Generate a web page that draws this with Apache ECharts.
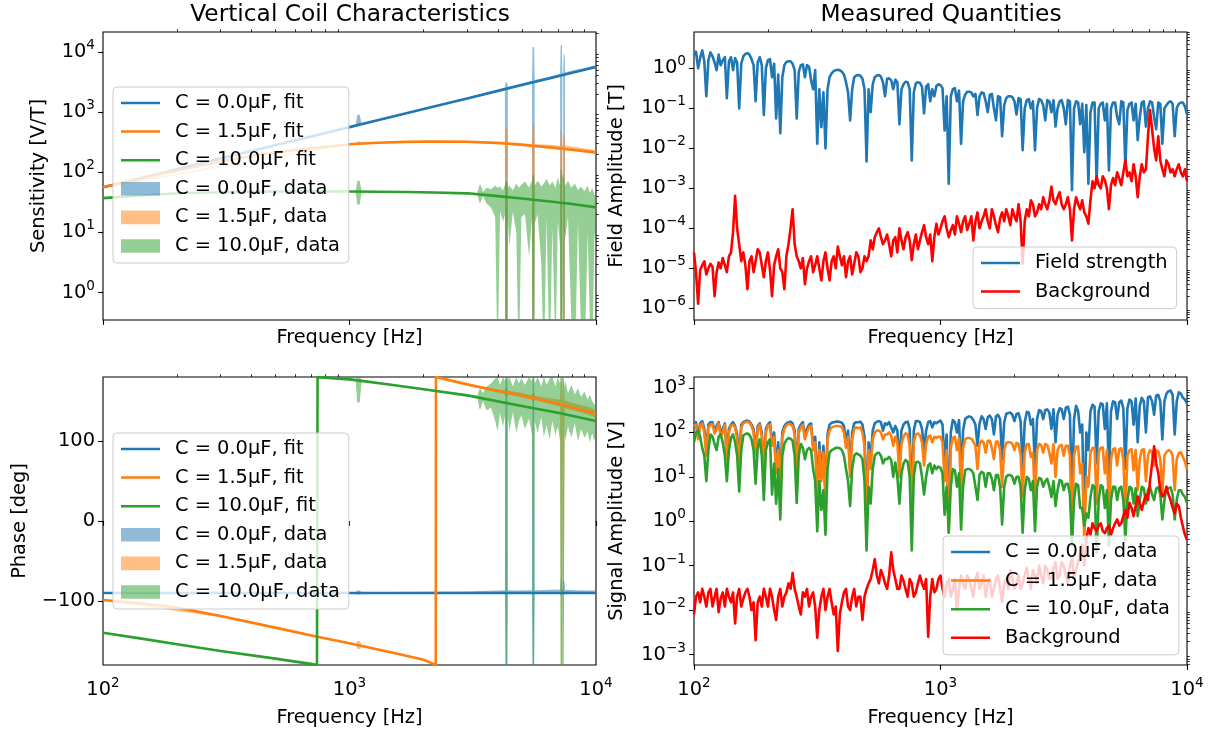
<!DOCTYPE html>
<html><head><meta charset="utf-8">
<script src="https://cdn.jsdelivr.net/npm/echarts@6.0.0/dist/echarts.min.js"></script>
<style>html,body{margin:0;padding:0;background:#fff}#c{width:1213px;height:734px}</style>
</head><body><div id="c"></div><script>
// ---------------- data ----------------
const FREQ = [100,103.9,108,112.2,116.6,121.2,125.9,130.8,135.9,141.3,146.8,152.5,158.5,164.7,171.1,177.8,184.8,192,199.5,207.3,
215.4,223.9,232.6,241.7,251.2,261,271.2,281.8,292.9,304.3,316.2,328.6,341.5,354.8,368.7,383.1,398.1,413.7,429.9,446.7,
464.2,482.3,501.2,520.8,541.2,562.3,584.3,607.2,631,655.6,681.3,707.9,735.6,764.5,794.3,825.4,857.7,891.3,926.1,962.4,
1000,1039,1080,1122,1166,1212,1259,1308,1359,1413,1468,1525,1585,1647,1711,1778,1848,1920,1995,2073,
2154,2239,2326,2417,2512,2610,2712,2818,2929,3043,3162,3286,3415,3548,3687,3831,3981,4137,4299,4467,
4642,4823,5012,5208,5412,5623,5843,6072,6310,6556,6813,7079,7356,7645,7943,8254,8577,8913,9261,9624,10000];
const FREQ_MID = [101.9,105.9,110.1,114.4,118.9,123.5,128.3,133.4,138.6,144,149.6,155.5,161.6,167.9,174.5,181.3,188.4,195.7,203.4,211.4,
219.6,228.2,237.1,246.4,256.1,266.1,276.5,287.3,298.5,310.2,322.4,335,348.1,361.7,375.8,390.5,405.8,421.7,438.2,455.3,
473.2,491.7,510.9,530.9,551.7,573.2,595.7,619,643.2,668.3,694.5,721.7,749.9,779.2,809.7,841.4,874.3,908.5,944.1,981,
1019,1059,1101,1144,1189,1235,1283,1334,1386,1440,1496,1555,1616,1679,1745,1813,1884,1957,2034,2114,
2196,2282,2371,2464,2561,2661,2765,2873,2985,3102,3224,3350,3481,3617,3758,3905,4058,4217,4382,4553,
4732,4917,5109,5309,5517,5732,5957,6190,6432,6683,6945,7217,7499,7792,8097,8414,8743,9085,9441,9810];

const FIELD = [2.2,1.0,2.8,0.2,2.5,1.4,2.2,1.6,0.18,1.9,
1.8,0.1,2.0,2.4,1.7,0.15,1.9,0.068,1.6,0.6,
0.056,0.024,1.2,1.5,1.3,0.056,1.2,0.6,1.1,0.3,
0.013,0.034,0.01,0.6,0.85,0.92,0.82,0.45,0.05,0.6,
0.68,0.55,0.0047,0.08,0.6,0.68,0.45,0.55,0.5,0.52,
0.04,0.4,0.45,0.005,0.42,0.43,0.075,0.4,0.3,0.36,
0.38,0.028,0.0013,0.3,0.15,0.013,0.22,0.26,0.2,0.068,
0.25,0.15,0.22,0.1,0.2,0.02,0.18,0.2,0.15,0.18,
0.009,0.16,0.1,0.009,0.17,0.12,0.16,0.08,0.035,0.15,
0.1,0.16,0.0009,0.15,0.04,0.008,0.0013,0.14,0.0013,0.13,
0.05,0.0028,0.14,0.06,0.15,0.0035,0.13,0.05,0.016,0.14,
0.035,0.15,0.06,0.14,0.013,0.12,0.15,0.02,0.13,0.14,0.07];
const FIELD_MID = [2.6,1.8,1.5,1.6,2.0,0.9,1.2,1.9,1.5,0.9,
1.4,1.3,2.3,2.2,1.2,1.4,1.2,1.0,1.7,1.3,
0.7,0.6,1.45,1.5,0.9,0.8,1.25,1.2,0.5,0.9,
0.3,0.25,0.3,0.75,0.9,0.9,0.7,0.25,0.3,0.66,
0.65,0.3,0.3,0.4,0.66,0.62,0.2,0.56,0.3,0.45,
0.3,0.46,0.3,0.25,0.45,0.35,0.35,0.15,0.2,0.4,
0.32,0.2,0.2,0.32,0.28,0.15,0.26,0.25,0.23,0.2,
0.24,0.08,0.23,0.05,0.19,0.12,0.2,0.19,0.07,0.17,
0.1,0.17,0.15,0.1,0.16,0.05,0.15,0.16,0.1,0.16,
0.04,0.15,0.1,0.14,0.13,0.12,0.08,0.14,0.1,0.14,
0.13,0.1,0.14,0.04,0.14,0.09,0.14,0.13,0.06,0.15,
0.1,0.14,0.03,0.13,0.1,0.14,0.13,0.1,0.14,0.11];

const BG_FIELD = [2.5e-5,1.3e-6,1.2e-5,7e-6,1.3e-5,2e-6,1.4e-5,1.8e-5,8e-6,2.5e-5,
6.5e-4,4e-5,2.5e-5,3e-6,2e-5,1.5e-5,2.5e-5,6e-6,2.5e-5,2e-6,
2e-5,1e-5,3e-6,4e-5,3e-4,2e-5,1e-5,4e-6,1.5e-5,8e-6,
2e-5,5e-6,2.5e-5,5e-6,2e-5,3.5e-5,1.2e-5,6e-6,2e-5,1.3e-5,
2e-5,1e-5,1.5e-5,5e-5,6e-5,1e-4,4e-5,7e-5,2e-5,6e-5,
1e-4,3e-5,8e-5,1.6e-5,7e-5,5e-5,1.2e-4,4e-5,1.5e-5,1.3e-4,
1e-4,2e-4,6e-5,1.2e-4,2e-4,8e-5,2e-4,1.3e-4,5e-5,2.5e-4,
1.5e-4,3e-4,1e-4,2e-4,8e-5,2.5e-4,3e-4,1.2e-4,2e-4,4e-4,
1.3e-5,3e-4,5e-4,2e-4,4e-4,6e-4,3e-4,1.1e-3,4e-4,8e-4,
3e-4,6e-4,5e-5,6e-4,3e-4,2.5e-4,1.3e-4,1.5e-3,2e-3,1e-3,
1.6e-3,3e-4,1.8e-3,2.5e-3,1.2e-3,5e-3,2.5e-3,4e-3,6e-4,4e-3,
3e-3,0.09,0.01,0.02,3e-3,5e-3,2.5e-3,2e-3,4e-3,2e-3,1.5e-3];
const BG_FIELD_MID = [8e-6,9e-6,1.5e-5,1e-5,1.1e-5,8e-6,1e-5,1.2e-5,2e-5,8e-5,
1e-4,1.5e-5,1.2e-5,1.5e-5,8e-6,3e-5,1.2e-5,1.5e-5,9e-6,1.2e-5,
3e-5,8e-6,2e-5,1e-4,4e-5,1.5e-5,1.8e-5,1e-5,2e-5,1.2e-5,
1e-5,1.5e-5,1e-5,1.5e-5,1e-5,2e-5,2e-5,1.5e-5,7e-6,2.5e-5,
8e-6,2e-5,2e-5,3e-5,8e-5,6e-5,5e-5,4e-5,5e-5,2.5e-5,
5e-5,6e-5,5e-5,4e-5,3e-5,8e-5,6e-5,7e-5,6e-5,7e-5,
1.5e-4,1e-4,9e-5,7e-5,1.3e-4,1.5e-4,9e-5,2e-4,1.5e-4,1e-4,
2e-4,1.5e-4,3e-4,1.2e-4,1.8e-4,1.5e-4,2e-4,3e-4,1.5e-4,1.5e-4,
1.5e-4,2e-4,4e-4,2.5e-4,3e-4,4e-4,5e-4,5e-4,6e-4,4e-4,
4e-4,3e-4,3e-4,4e-4,5e-4,2e-4,5e-4,1e-3,1.2e-3,2e-3,
1e-3,1.2e-3,1.2e-3,1.8e-3,2.5e-3,2e-3,1.5e-3,2e-3,2e-3,2.5e-3,
0.02,0.03,5e-3,5e-3,2e-3,4e-3,3e-3,3e-3,2.5e-3,3e-3];

const SIG0 = [150,80,180,40,170,110,170,120,30,150,
140,25,170,185,150,35,160,15,150,60,
15,8,140,170,160,15,150,80,150,50,
5,10,4,150,170,175,165,60,15,160,
170,150,2,25,160,180,110,150,130,140,
20,150,175,2.5,180,170,40,170,130,160,
185,20,1.5,190,100,10,200,230,190,50,
230,120,240,90,250,25,260,280,180,270,
15,290,150,15,320,200,330,120,60,350,
200,380,3,400,100,0.64,40,420,20,450,
120,10,500,200,520,15,550,150,60,600,
100,650,250,700,70,750,880,90,800,600,450];
const SIG0_MID = [170,160,120,150,170,140,100,160,120,170,
90,150,180,175,120,140,100,120,170,100,
60,100,160,175,110,120,170,120,160,80,
60,50,90,165,175,172,140,110,100,170,
175,80,60,110,175,170,160,170,100,110,
110,170,120,110,180,120,110,180,170,175,
150,90,100,170,190,110,220,220,150,160,
200,220,200,230,200,170,275,250,260,180,
170,280,200,200,300,320,280,330,250,330,
360,250,200,300,150,100,300,380,300,430,
450,300,480,480,350,350,500,580,400,500,
620,500,680,500,500,850,700,500,750,550];

const SIG1 = [140,70,160,30,150,95,160,100,25,140,
130,20,160,175,140,30,150,12,140,50,
12,6,120,155,140,12,130,70,130,40,
2.5,8,3,110,135,140,130,45,10,120,
125,100,1.5,15,100,110,70,90,85,80,
10,80,90,1.2,90,85,18,80,60,75,
80,8,0.6,75,40,4,70,75,62,15,
65,35,65,25,62,6,58,60,40,55,
3.5,55,28,3,55,35,52,20,10,50,
30,50,0.5,48,12,0.4,6,45,2.5,45,
12,1.2,42,18,44,1.5,40,14,5,40,
8,40,18,38,4,36,38,5,34,28,15];
const SIG1_MID = [150,140,100,130,155,120,80,150,100,150,
70,130,170,165,100,120,80,100,150,80,
40,80,145,155,90,100,150,100,140,60,
40,35,70,130,140,138,100,80,70,130,
130,50,40,70,110,100,90,100,50,60,
55,95,50,60,95,60,55,85,80,80,
60,40,45,80,75,45,75,72,50,55,
60,65,45,62,40,40,60,55,58,30,
35,55,35,40,52,55,35,55,40,52,
50,30,30,48,20,10,35,44,35,46,
40,25,44,42,25,30,42,40,25,42,
30,35,40,25,30,40,30,25,36,22];

const SIG2 = [60,110,45,8,90,55,80,60,8,75,
60,4.7,85,95,70,7,70,3,60,4,
2.5,1.1,55,75,65,2.6,55,25,45,15,
0.6,1.8,0.5,35,42,45,40,15,2.2,30,
32,25,0.22,2.5,30,35,20,25,24,21,
2.5,20,22,0.22,21,20,4,18,12,15,
16,1.4,0.55,15,6,0.65,14,15,12,3,
13,6,12,5,11,0.85,10,11,7,10,
0.55,10,5,0.6,9.5,6,9,3.5,2.2,8.5,
5,7,0.28,7,2,0.8,1.2,6.5,0.19,6.5,
2,0.28,6,3,6,0.38,6,2.5,1.3,6,
2.5,6,3,5.8,1.1,5.5,5.8,1.1,5,4,2.6];
const SIG2_MID = [100,80,30,40,80,40,90,30,40,90,
30,40,92,88,40,45,30,40,70,20,
15,30,68,72,30,30,45,40,40,8,
8,5,15,40,45,44,30,8,15,34,
30,8,6,15,34,30,25,28,10,10,
12,24,10,10,22,10,10,20,18,17,
12,6,6,14,12,6,15,14,6,11,
12,12,9,11,6,6,11,10,10,6,
5,9,8,6,9,8,6,8,5,8,
7,4,3,6.5,2,1.5,3.5,6,3,6,
5,3,6,5.5,3,3,5.5,5.5,3,5.5,
5,4,5.5,4,3,5.5,4,3,5,3.5];

const BG_SIG = [0.008,0.025,0.03,0.012,0.03,0.02,0.009,0.025,0.03,0.015,
0.005,0.03,0.018,0.03,0.01,0.0021,0.02,0.03,0.012,0.02,
0.006,0.03,0.02,0.04,0.068,0.02,0.008,0.02,0.012,0.025,
0.0024,0.02,0.01,0.03,0.008,0.0012,0.015,0.03,0.01,0.03,
0.02,0.006,0.03,0.05,0.14,0.04,0.06,0.03,0.2,0.05,
0.03,0.045,0.02,0.04,0.025,0.06,0.03,0.0025,0.05,0.03,
0.06,0.02,0.05,0.03,0.01,0.06,0.03,0.05,0.02,0.07,
0.04,0.02,0.05,0.03,0.06,0.015,0.05,0.08,0.03,0.06,
0.04,0.09,0.03,0.06,0.1,0.04,0.08,0.05,0.12,0.06,
0.1,0.04,0.15,0.08,0.2,0.1,0.7,0.9,0.6,0.9,
0.54,0.8,0.7,1.1,0.9,1.8,2.6,1.3,3.6,1.8,
4,8,49,12,3.6,6,3,1.5,2.2,0.76,0.38];
const BG_SIG_MID = [0.02,0.015,0.02,0.025,0.012,0.03,0.018,0.012,0.02,0.025,
0.02,0.012,0.025,0.02,0.015,0.015,0.012,0.02,0.03,0.01,
0.02,0.012,0.025,0.03,0.03,0.012,0.025,0.03,0.02,0.012,
0.01,0.03,0.02,0.015,0.012,0.008,0.025,0.012,0.02,0.012,
0.02,0.02,0.04,0.08,0.06,0.08,0.04,0.06,0.08,0.03,
0.06,0.03,0.05,0.02,0.04,0.04,0.05,0.02,0.025,0.05,
0.03,0.04,0.02,0.05,0.03,0.04,0.06,0.03,0.05,0.03,
0.06,0.04,0.02,0.05,0.03,0.04,0.03,0.05,0.04,0.03,
0.06,0.05,0.08,0.04,0.06,0.1,0.05,0.09,0.05,0.12,
0.06,0.1,0.05,0.12,0.3,0.4,0.5,0.7,0.8,0.6,
0.7,0.5,0.9,0.8,1.3,1.2,2,2.2,2.5,2.8,
3,20,20,5,4,4,2,2.5,1.2,0.5];

// sensitivity fits
const FIT_F = [100,130,170,220,300,400,500,650,800,1000,1300,1700,2200,3000,4000,5000,6500,8000,10000];
const FIT0 = [56,73,95,123,168,224,280,364,448,560,728,952,1232,1680,2240,2800,3640,4480,5600];
const FIT1 = [56,72,92,115,150,185,212,243,265,290,308,318,324,320,305,285,258,236,213];
const FIT2 = [37,40,43,45,46.5,47.3,47.7,48,48,47.7,47.3,46.7,46,44.5,40,36.5,32.5,29.5,26];

// sensitivity data bands
const BAND_F01 = [100,1000,1060,1075,1100,1120,2000,3000,3400,4000,4270,4295,4365,4390,4800,5500,5530,5610,5640,6500,
7150,7190,7270,7300,7360,7390,7460,7490,8500,9500,10000];
const SENS0_LO = [54,545,580,590,600,610,1090,1640,1850,2180,2330,0.01,0.01,2390,2600,2980,0.01,0.01,3040,3500,
3860,0.01,0.01,3980,3990,0.01,0.01,4080,4600,5100,5400];
const SENS0_HI = [58,575,610,900,900,640,1150,1740,1990,2350,2550,3100,3100,2600,2850,3300,12000,12000,3400,3900,
4300,13000,13000,4450,4480,9000,9000,4550,5100,5700,6000];
const SENS1_LO = [54,285,289,280,280,291,316,305,300,290,286,0.01,0.01,284,275,263,0.01,0.01,261,245,
236,0.01,0.01,233,232,0.01,0.01,231,218,205,200];
const SENS1_HI = [58,301,305,325,325,307,334,332,330,322,319,560,560,317,308,293,650,650,291,285,
276,520,520,285,282,420,420,276,258,240,228];
const BAND_F2 = [100,200,400,700,1000,1060,1075,1100,1120,1500,2000,2500,3000,3300,3370,3400,3480,3600,3750,3900,
3987,4080,4200,4270,4295,4365,4390,4450,4600,4750,4863,4980,5150,5350,5500,5530,5610,5640,5800,6000,
6145,6300,6486,6650,6847,7000,7150,7190,7270,7300,7360,7390,7460,7500,7700,7950,8200,8450,8700,8975,
9250,9450,9644,9850,10000];
const SENS2_LO = [36,43.5,46.3,47,46.7,46.6,29,29,46.6,46,45.3,44.5,43.5,42.5,31,31,40,30,26,18,
0.05,22,15,20,0.01,0.01,16,6,22,10,0.05,18,20,4,17,0.01,0.01,14,20,3,
0.05,18,0.05,12,0.1,15,6,0.01,0.01,1,0.01,0.01,12,8,18,0.3,0.05,15,0.2,0.05,
10,0.3,0.05,8,14];
const SENS2_HI = [38,45.5,48.3,49,48.7,48.6,72,72,48.6,48,47.3,46.5,45.5,45,62,62,47,55,52,60,
55,58,50,62,70,70,55,60,50,65,55,62,70,55,72,90,90,60,72,58,
65,78,60,70,55,82,60,110,110,80,95,95,62,60,72,55,65,50,58,48,
60,45,55,42,40];

// phase fits
const PH0_F = [100,10000];
const PH0 = [-90,-90];
const PH1_F = [100,150,200,300,500,740,1000,1500,2000,2238,2242,3000,4000,5000,7000,10000];
const PH1 = [-98.8,-103.5,-108.3,-118.8,-133.3,-144.6,-152.9,-164.6,-173.5,-179.9,179.9,170.8,162.5,157,146.7,134];
const PH2_F = [100,150,200,300,500,738,742,1000,1500,2000,3000,5000,7000,10000];
const PH2 = [-139.6,-148,-154,-162.5,-172,-179.9,179.9,177,170,164.6,157,143.8,135.4,125];

// phase data bands
const PHD0_LO = [-91,-91,-91,-92,-92,-91,-91,-91,-91,-91,-91,-180,-180,-91,-91,-91,-180,-180,-91,-91,
-91,-93,-93,-91,-91,-92,-92,-91,-91,-91,-91];
const PHD0_HI = [-89,-89,-89,-87,-87,-89,-88.5,-88,-87.5,-87,-86.5,180,180,-86.5,-87,-86.5,180,180,-86.5,-86,
-85.5,-72,-72,-85.5,-85.5,-75,-75,-86,-86.5,-87,-87];
const PHD1_F = [100,300,700,1000,1060,1075,1100,1120,1500,2000,2235,2245,2500,3000,3400,4000,4270,4295,4365,4390,
4800,5500,5530,5610,5640,6500,7150,7190,7270,7300,7360,7390,7460,7490,8500,9500,10000];
const PHD1_LO = [-100,-120,-144.5,-154,-155.7,-160,-160,-157.4,-165.8,-174.7,-180,178.5,175,169.5,165.5,160.5,158.5,155,155,158,
155.5,151.5,150,150,151,146.5,143,-180,-180,142,-180,-180,141.5,141,136.5,132,129.5];
const PHD1_HI = [-97.6,-117.6,-141.8,-151.8,-153.3,-150,-150,-155,-163.4,-172.3,-178.8,180,178,172.2,168.6,164.5,163.5,167,167,163,
161,157.5,160,160,156.5,153.5,151.5,180,180,151.5,180,180,151,150.5,145.5,142,138.5];
const PHD2_F = [100,300,700,736,744,1000,1060,1075,1100,1120,1500,2000,2500,3000,3300,3370,3400,3480,3600,3750,
3900,3987,4080,4200,4270,4295,4365,4390,4450,4600,4750,4863,4980,5150,5350,5500,5530,5610,5640,5800,
6000,6145,6300,6486,6650,6847,7000,7150,7190,7270,7300,7360,7390,7460,7500,7700,7950,8200,8450,8700,
8975,9250,9450,9644,9850,10000];
const PHD2_LO = [-140.5,-163.5,-178.5,-180,178.5,176,175,148,148,175,169,163.5,159.5,156,154,140,140,150,138,142,
125,112,135,118,132,-180,-180,130,112,136,110,125,132,115,128,108,-180,-180,125,110,
130,105,120,102,125,108,118,100,-180,-180,-180,-180,-180,110,100,118,104,122,100,115,
104,112,98,110,100,112];
const PHD2_HI = [-138.7,-161.5,-176.5,-178.5,180,178,177.5,180,180,177,171,165.5,161.5,158,157,165,165,160,168,172,
178,180,170,180,175,180,180,176,180,168,180,172,178,170,180,175,180,180,172,180,
168,180,170,178,180,168,180,172,180,180,180,180,180,168,175,160,170,158,166,155,
162,152,158,150,146,140];

// tick labels
const X_MAJOR = [100,1000,10000];
const Y_SENS = [1,10,100,1000,10000];
const Y_FIELD = [1e-6,1e-5,1e-4,1e-3,1e-2,1e-1,1];
const Y_PHASE = [-100,0,100];
const Y_SIG = [1e-3,1e-2,1e-1,1,10,100,1000];

const TITLES = ['Vertical Coil Characteristics','Measured Quantities'];
const LABELS = {
  tl_f0:'C = 0.0\u03bcF, fit', tl_f1:'C = 1.5\u03bcF, fit', tl_f2:'C = 10.0\u03bcF, fit',
  tl_d0:'C = 0.0\u03bcF, data', tl_d1:'C = 1.5\u03bcF, data', tl_d2:'C = 10.0\u03bcF, data',
  bl_f0:'C = 0.0\u03bcF, fit', bl_f1:'C = 1.5\u03bcF, fit', bl_f2:'C = 10.0\u03bcF, fit',
  bl_d0:'C = 0.0\u03bcF, data', bl_d1:'C = 1.5\u03bcF, data', bl_d2:'C = 10.0\u03bcF, data',
  tr_f:'Field strength', tr_b:'Background',
  br_d0:'C = 0.0\u03bcF, data', br_d1:'C = 1.5\u03bcF, data', br_d2:'C = 10.0\u03bcF, data', br_b:'Background'
};

// ---------------- styling ----------------
const FONT = 'DejaVu Sans';
const FS = 19.4;
const C0 = '#1f77b4', C1 = '#ff7f0e', C2 = '#2ca02c', CR = '#ff0000';
const A0 = 'rgba(31,119,180,0.5)', A1 = 'rgba(255,127,14,0.5)', A2 = 'rgba(44,160,44,0.5)';
const LW = 2.6;
const GRIDS = [
  {left:103, top:32, width:493, height:288},
  {left:694, top:32, width:493, height:288},
  {left:103, top:377, width:493, height:288},
  {left:694, top:377, width:493, height:288}
];

function minorList(e0, e1){ const o=[]; for(let e=e0;e<=e1;e++) for(let m=2;m<=9;m++) o.push(+(m*Math.pow(10,e)).toPrecision(3)); return o; }
function powFmt(v){ const e=Math.round(Math.log10(v)); return '{b|10}{s|'+(e<0?'\u2212'+(-e):e)+'}'; }
const RICH = {
  b:{fontSize:FS, fontFamily:FONT, color:'#000'},
  s:{fontSize:13.6, fontFamily:FONT, color:'#000', padding:[0,0,13,0]}
};
const nameStyle = {fontSize:FS, fontFamily:FONT, color:'#000'};

function xAxes(k, labels){
  return [
    {type:'log', logBase:10, gridIndex:k, min:100, max:10000,
     axisLine:{show:false}, splitLine:{show:false},
     axisTick:{show:true, length:4.9, lineStyle:{color:'#000', width:1.1}, customValues:X_MAJOR},
     axisLabel:{show:labels, customValues:X_MAJOR, formatter:powFmt, rich:RICH, margin:11, showMinLabel:true, showMaxLabel:true},
     name:'Frequency [Hz]', nameLocation:'middle', nameGap: labels?43:8, nameTextStyle:nameStyle},
    {type:'log', logBase:10, gridIndex:k, min:100, max:10000,
     axisLine:{show:false}, splitLine:{show:false}, axisLabel:{show:false},
     axisTick:{show:true, length:2.8, lineStyle:{color:'#000', width:0.8}, customValues:minorList(2,3)}}
  ];
}
function yLog(k, min, max, majors, e0, e1, name, gap){
  return [
    {type:'log', logBase:10, gridIndex:k, min, max,
     axisLine:{show:false}, splitLine:{show:false},
     axisTick:{show:true, length:4.9, lineStyle:{color:'#000', width:1.1}, customValues:majors},
     axisLabel:{show:true, customValues:majors, formatter:powFmt, rich:RICH, margin:8, showMinLabel:true, showMaxLabel:true},
     name, nameLocation:'middle', nameRotate:90, nameGap:gap, nameTextStyle:nameStyle},
    {type:'log', logBase:10, gridIndex:k, min, max,
     axisLine:{show:false}, splitLine:{show:false}, axisLabel:{show:false},
     axisTick:{show:true, length:2.8, lineStyle:{color:'#000', width:0.8}, customValues:minorList(e0,e1).filter(v=>v>min&&v<max)}}
  ];
}

const xAxis = [].concat(xAxes(0,false), xAxes(1,false), xAxes(2,true), xAxes(3,true));
const yAxis = [].concat(
  yLog(0, 0.35, 2.13e4, Y_SENS, -1, 4, 'Sensitivity [V/T]', 55),   // 0,1
  yLog(1, 5.1e-7, 8.1, Y_FIELD, -7, 0, 'Field Amplitude [T]', 68), // 2,3
  [{type:'value', gridIndex:2, min:-180, max:180,
    axisLine:{show:false}, splitLine:{show:false},
    axisTick:{show:true, length:4.9, lineStyle:{color:'#000', width:1.1}, customValues:Y_PHASE},
    axisLabel:{show:true, customValues:Y_PHASE, margin:8, fontSize:FS, fontFamily:FONT, color:'#000',
      formatter:v=> v<0 ? '\u2212'+(-v) : ''+v},
    name:'Phase [deg]', nameLocation:'middle', nameRotate:90, nameGap:74, nameTextStyle:nameStyle}], // 4
  yLog(3, 5.8e-4, 1.77e3, Y_SIG, -4, 3, 'Signal Amplitude [V]', 68)  // 5,6
);

function pairs(F, V){ return F.map((f,i)=>[f, V[i]]); }
function interleave(F, V, FM, VM){ const o=[]; for(let i=0;i<F.length;i++){ o.push([F[i],V[i]]); if(i<FM.length) o.push([FM[i],VM[i]]); } return o; }
function lineS(name, xi, yi, data, color){
  return {type:'line', name, xAxisIndex:xi, yAxisIndex:yi, data,
    symbol:'none', showSymbol:false, lineStyle:{color, width:LW, join:'round'}, itemStyle:{color}, clip:true,
    animation:false, silent:true, z:3};
}
function bandS(name, xi, yi, F, LO, HI, color){
  return {type:'custom', name, xAxisIndex:xi, yAxisIndex:yi, coordinateSystem:'cartesian2d',
    data:F.map((f,i)=>[f, LO[i], HI[i]]), encode:{x:0, y:[1,2]}, itemStyle:{color}, clip:true,
    animation:false, silent:true, z:2,
    renderItem:function(params, api){
      if (params.dataIndex !== 0) return null;
      const pts = [];
      for (let i=0;i<F.length;i++) pts.push(api.coord([F[i], HI[i]]));
      for (let i=F.length-1;i>=0;i--) pts.push(api.coord([F[i], LO[i]]));
      const cs = params.coordSys;
      return {type:'group', clipPath:{type:'rect', shape:{x:cs.x, y:cs.y, width:cs.width, height:cs.height}},
        children:[{type:'polygon', shape:{points:pts}, style:{fill:color, stroke:null}}]};
    }};
}

const series = [
  // top-left
  bandS('tl_d0', 0, 0, BAND_F01, SENS0_LO, SENS0_HI, A0),
  bandS('tl_d1', 0, 0, BAND_F01, SENS1_LO, SENS1_HI, A1),
  bandS('tl_d2', 0, 0, BAND_F2, SENS2_LO, SENS2_HI, A2),
  lineS('tl_f0', 0, 0, pairs(FIT_F, FIT0), C0),
  lineS('tl_f1', 0, 0, pairs(FIT_F, FIT1), C1),
  lineS('tl_f2', 0, 0, pairs(FIT_F, FIT2), C2),
  // top-right
  lineS('tr_f', 2, 2, interleave(FREQ, FIELD, FREQ_MID, FIELD_MID), C0),
  lineS('tr_b', 2, 2, interleave(FREQ, BG_FIELD, FREQ_MID, BG_FIELD_MID), CR),
  // bottom-left
  bandS('bl_d0', 4, 4, BAND_F01, PHD0_LO, PHD0_HI, A0),
  bandS('bl_d1', 4, 4, PHD1_F, PHD1_LO, PHD1_HI, A1),
  bandS('bl_d2', 4, 4, PHD2_F, PHD2_LO, PHD2_HI, A2),
  lineS('bl_f0', 4, 4, pairs(PH0_F, PH0), C0),
  lineS('bl_f1', 4, 4, pairs(PH1_F, PH1), C1),
  lineS('bl_f2', 4, 4, pairs(PH2_F, PH2), C2),
  // bottom-right
  lineS('br_d0', 6, 5, interleave(FREQ, SIG0, FREQ_MID, SIG0_MID), C0),
  lineS('br_d1', 6, 5, interleave(FREQ, SIG1, FREQ_MID, SIG1_MID), C1),
  lineS('br_d2', 6, 5, interleave(FREQ, SIG2, FREQ_MID, SIG2_MID), C2),
  lineS('br_b', 6, 5, interleave(FREQ, BG_SIG, FREQ_MID, BG_SIG_MID), CR)
];

const LINE_ICON = 'path://M0,0L0.01,0L0,0.01ZM40,14L39.99,14L40,13.99ZM0,5.7L40,5.7L40,8.3L0,8.3Z';
function legendCfg(left, top, items){
  return {show:true, orient:'vertical', left, top, itemWidth:39, itemHeight:13.6, itemGap:8.6,
    padding:[6,9,7,8], backgroundColor:'rgba(255,255,255,0.8)', borderColor:'#cccccc', borderWidth:1,
    borderRadius:4, selectedMode:false, symbolKeepAspect:false, z:10,
    textStyle:{color:'#000', fontSize:FS, fontFamily:FONT, lineHeight:20,
      rich:{t:{fontSize:FS, fontFamily:FONT, color:'#000', padding:[0,0,0,10], lineHeight:20, height:20}}},
    formatter:n=>'{t|'+LABELS[n]+'}',
    data:items.map(([name, kind, color])=>({name, icon: kind==='line'?LINE_ICON:'rect',
      itemStyle:{color, borderWidth:0, opacity:1}}))};
}
const legend = [
  legendCfg(113, 87, [['tl_f0','line',C0],['tl_f1','line',C1],['tl_f2','line',C2],['tl_d0','rect',A0],['tl_d1','rect',A1],['tl_d2','rect',A2]]),
  legendCfg(113, 433, [['bl_f0','line',C0],['bl_f1','line',C1],['bl_f2','line',C2],['bl_d0','rect',A0],['bl_d1','rect',A1],['bl_d2','rect',A2]]),
  legendCfg(973, 247, [['tr_f','line',C0],['tr_b','line',CR]]),
  legendCfg(943, 536, [['br_d0','line',C0],['br_d1','line',C1],['br_d2','line',C2],['br_b','line',CR]])
];

const chart = echarts.init(document.getElementById('c'), null, {renderer:'canvas'});
chart.setOption({
  backgroundColor:'#fff', animation:false,
  grid: GRIDS.map(g=>Object.assign({show:true, borderColor:'#000', borderWidth:1.1, backgroundColor:'transparent', containLabel:false}, g)),
  xAxis, yAxis, series, legend,
  graphic:[
    {type:'text', x:350, y:15, style:{text:TITLES[0], font:'23.3px "DejaVu Sans"', fill:'#000', textAlign:'center', textVerticalAlign:'middle', align:'center', verticalAlign:'middle'}},
    {type:'text', x:941, y:15, style:{text:TITLES[1], font:'23.3px "DejaVu Sans"', fill:'#000', textAlign:'center', textVerticalAlign:'middle', align:'center', verticalAlign:'middle'}}
  ]
});
</script></body></html>
